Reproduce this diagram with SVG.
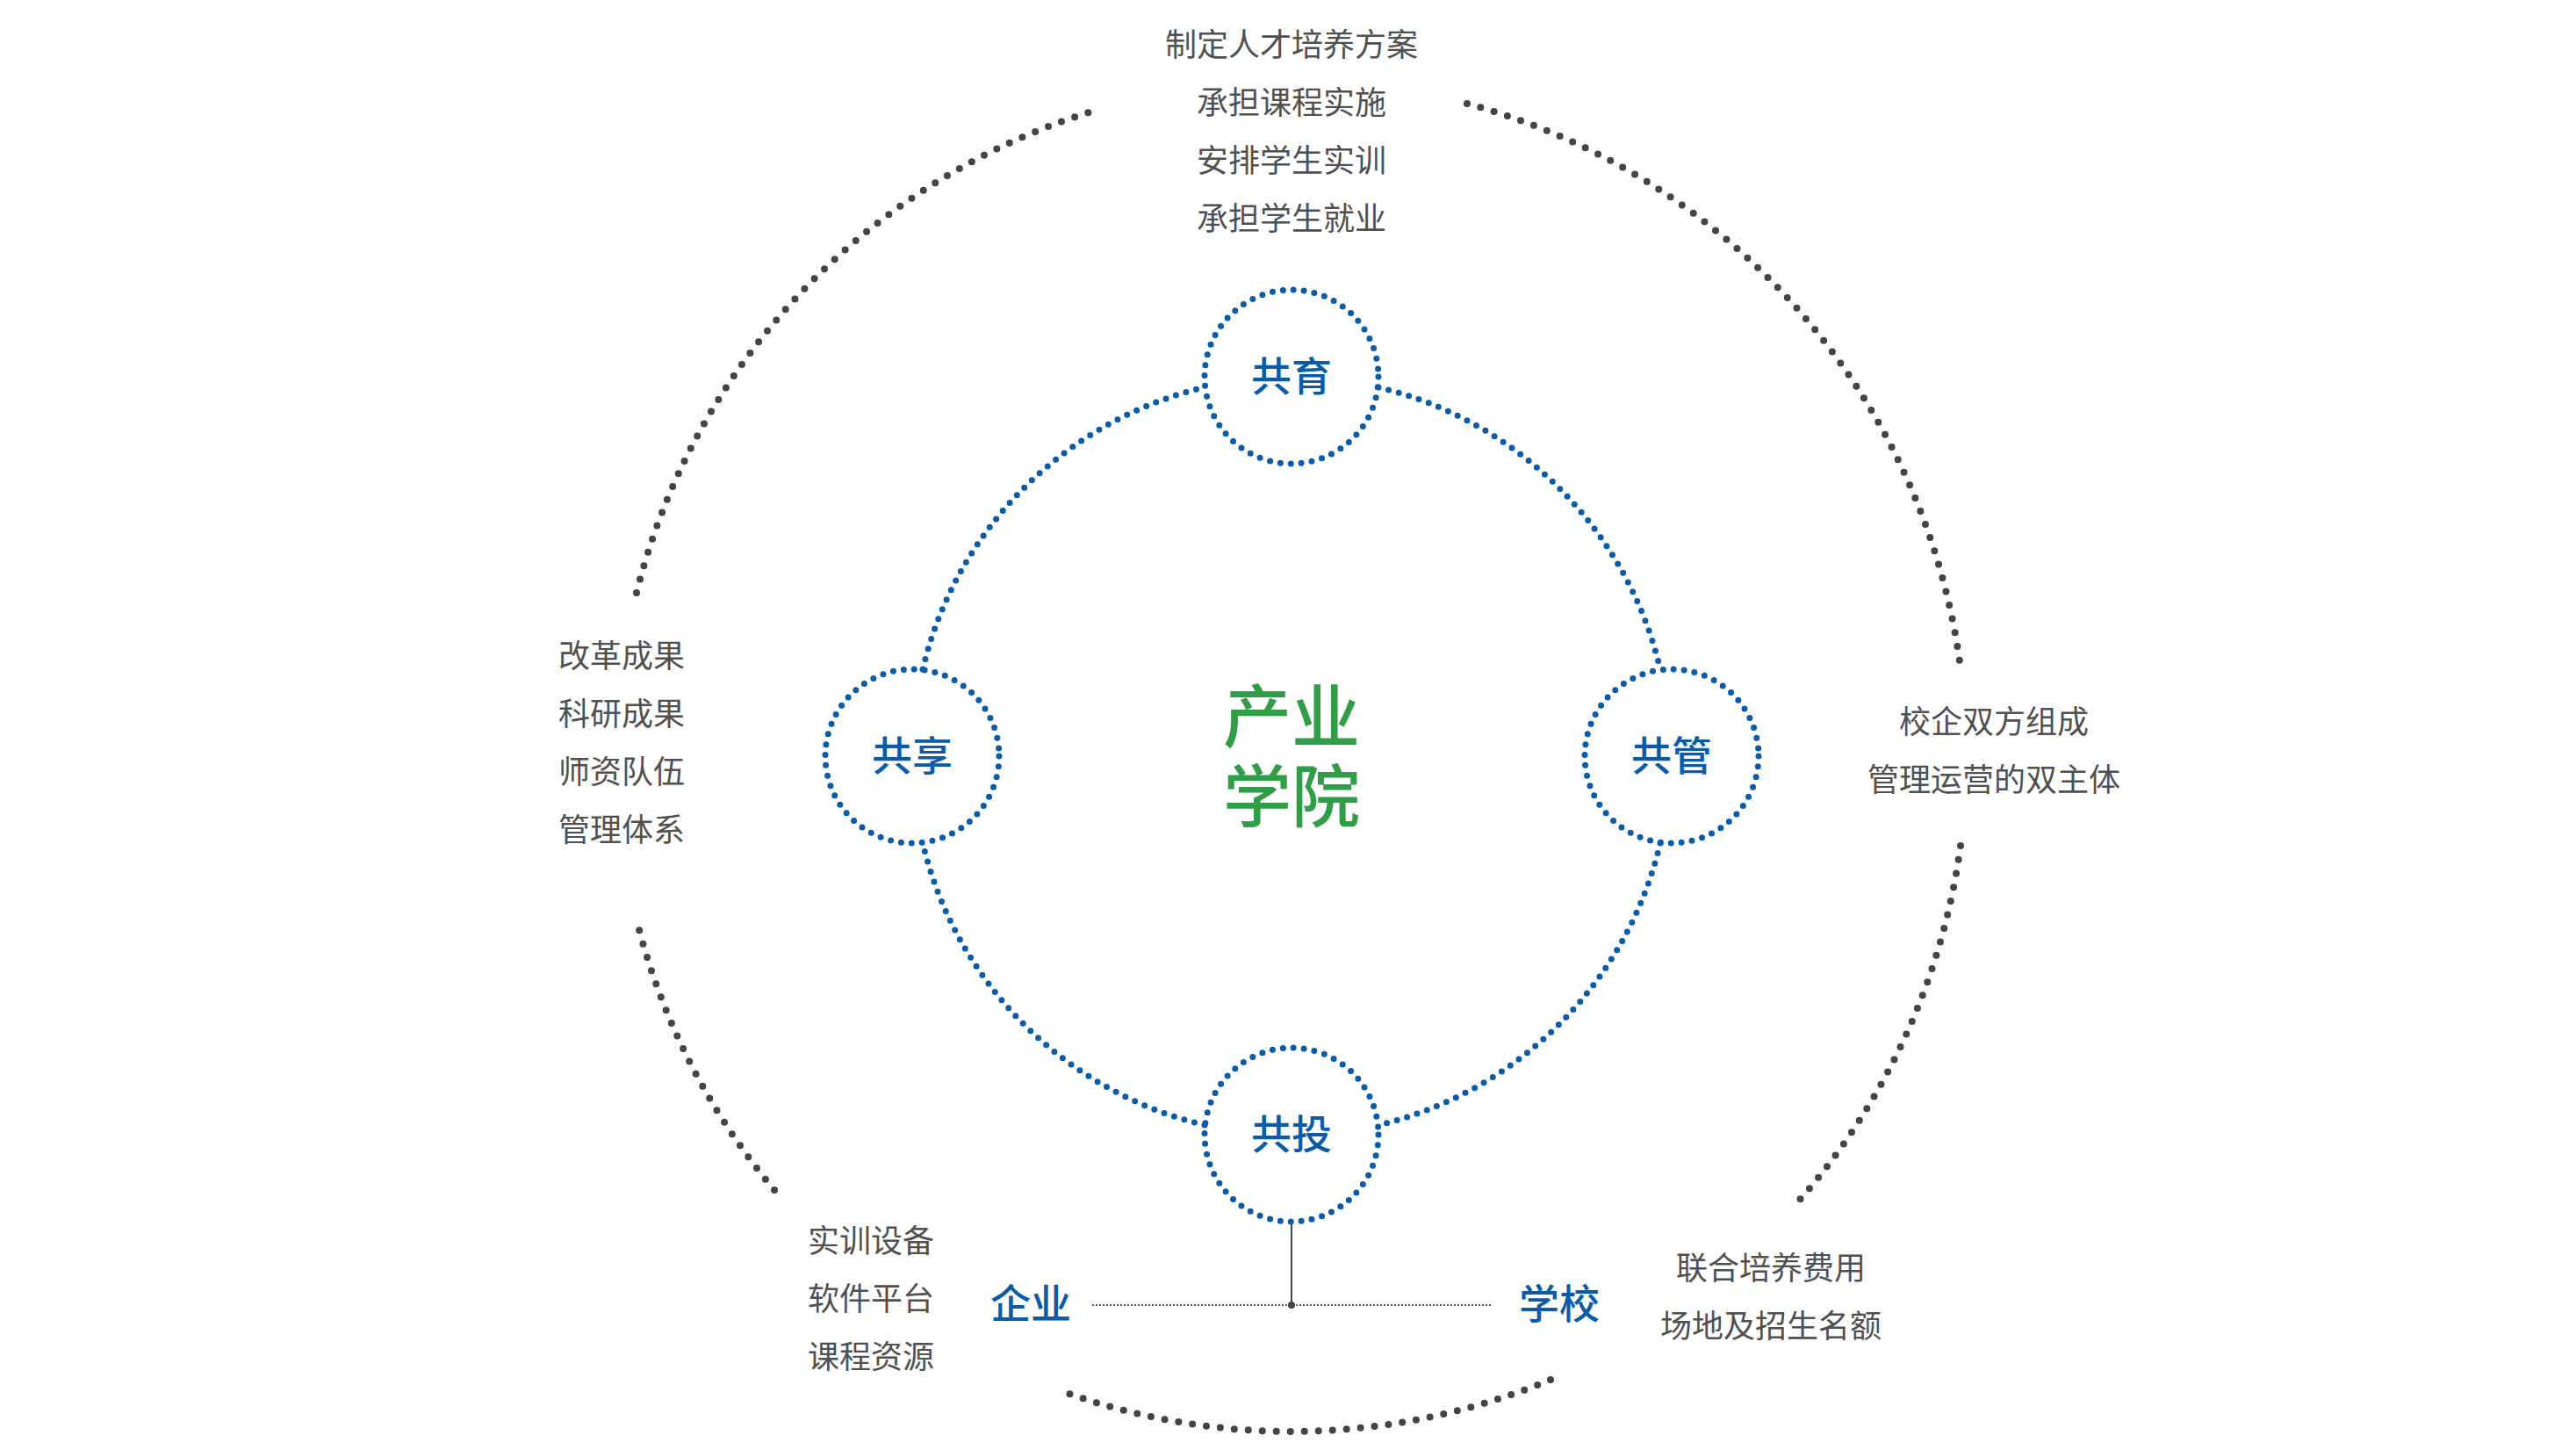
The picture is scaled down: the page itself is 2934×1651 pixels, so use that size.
<svg xmlns="http://www.w3.org/2000/svg" width="2934" height="1651" viewBox="0 0 2934 1651">
<style>
.t{font-family:"Noto Sans CJK SC","Noto Sans",sans-serif;font-size:36px;fill:#505050;text-anchor:middle}
.b{font-family:"Noto Sans CJK SC","Noto Sans",sans-serif;font-size:46px;font-weight:500;fill:#0a5ca8;text-anchor:middle}
.g{font-family:"Noto Sans CJK SC","Noto Sans",sans-serif;font-size:78px;font-weight:500;fill:#2f9e47;text-anchor:middle}
.in{fill:none;stroke:#0a5ca8;stroke-width:7;stroke-linecap:round;stroke-dasharray:0 12}
.out{fill:none;stroke:#444;stroke-width:8;stroke-linecap:round;stroke-dasharray:0 16}
</style>
<rect width="2934" height="1651" fill="#fff"/>
<g transform="translate(-7,0)">
<g id="connectors">
<path class="out" d="M732,675 A769,769 0 0 1 1260,124"/>
<path class="out" d="M1678,118 A769,769 0 0 1 2239,753"/>
<path class="out" d="M2240,963 A769,769 0 0 1 2049,1375"/>
<path class="out" d="M1773,1571 A769,769 0 0 1 1219,1585"/>
<path class="out" d="M889,1355 A769,769 0 0 1 732,1047"/>
<path class="in" d="M1577,441 A432,432 0 0 1 1898,762"/>
<path class="in" d="M1898,960 A432,432 0 0 1 1577,1281"/>
<path class="in" d="M1379,1281 A432,432 0 0 1 1058,960"/>
<path class="in" d="M1058,762 A432,432 0 0 1 1379,441"/>
<line x1="1478" y1="1392" x2="1478" y2="1486" stroke="#444" stroke-width="2"/>
<line x1="1251" y1="1486" x2="1706" y2="1486" stroke="#555" stroke-width="2" stroke-dasharray="2 2"/>
<circle cx="1478" cy="1486" r="4" fill="#444"/>
</g>
<g id="center"><text class="g" x="1478" y="845">产业</text><text class="g" x="1478" y="936">学院</text></g>
<g id="gongyu"><circle class="in" cx="1478" cy="429" r="99"/><text class="b" x="1478" y="445">共育</text></g>
<g id="gongguan"><circle class="in" cx="1911" cy="861" r="99"/><text class="b" x="1911" y="877">共管</text></g>
<g id="gongxiang"><circle class="in" cx="1046" cy="861" r="99"/><text class="b" x="1046" y="877">共享</text></g>
<g id="gongtou"><circle class="in" cx="1478" cy="1292" r="99"/><text class="b" x="1478" y="1308">共投</text></g>
<g id="qiye"><text class="b" x="1181" y="1501">企业</text></g>
<g id="xuexiao"><text class="b" x="1783" y="1501">学校</text></g>
<g id="top-text"><text class="t" x="1478" y="64">制定人才培养方案</text><text class="t" x="1478" y="130">承担课程实施</text><text class="t" x="1478" y="196">安排学生实训</text><text class="t" x="1478" y="262">承担学生就业</text></g>
<g id="left-text"><text class="t" x="715" y="760">改革成果</text><text class="t" x="715" y="826">科研成果</text><text class="t" x="715" y="892">师资队伍</text><text class="t" x="715" y="958">管理体系</text></g>
<g id="right-text"><text class="t" x="2278" y="835">校企双方组成</text><text class="t" x="2278" y="901">管理运营的双主体</text></g>
<g id="bl-text"><text class="t" x="999" y="1426">实训设备</text><text class="t" x="999" y="1492">软件平台</text><text class="t" x="999" y="1558">课程资源</text></g>
<g id="br-text"><text class="t" x="2024" y="1457">联合培养费用</text><text class="t" x="2024" y="1523">场地及招生名额</text></g>
</g>
</svg>
